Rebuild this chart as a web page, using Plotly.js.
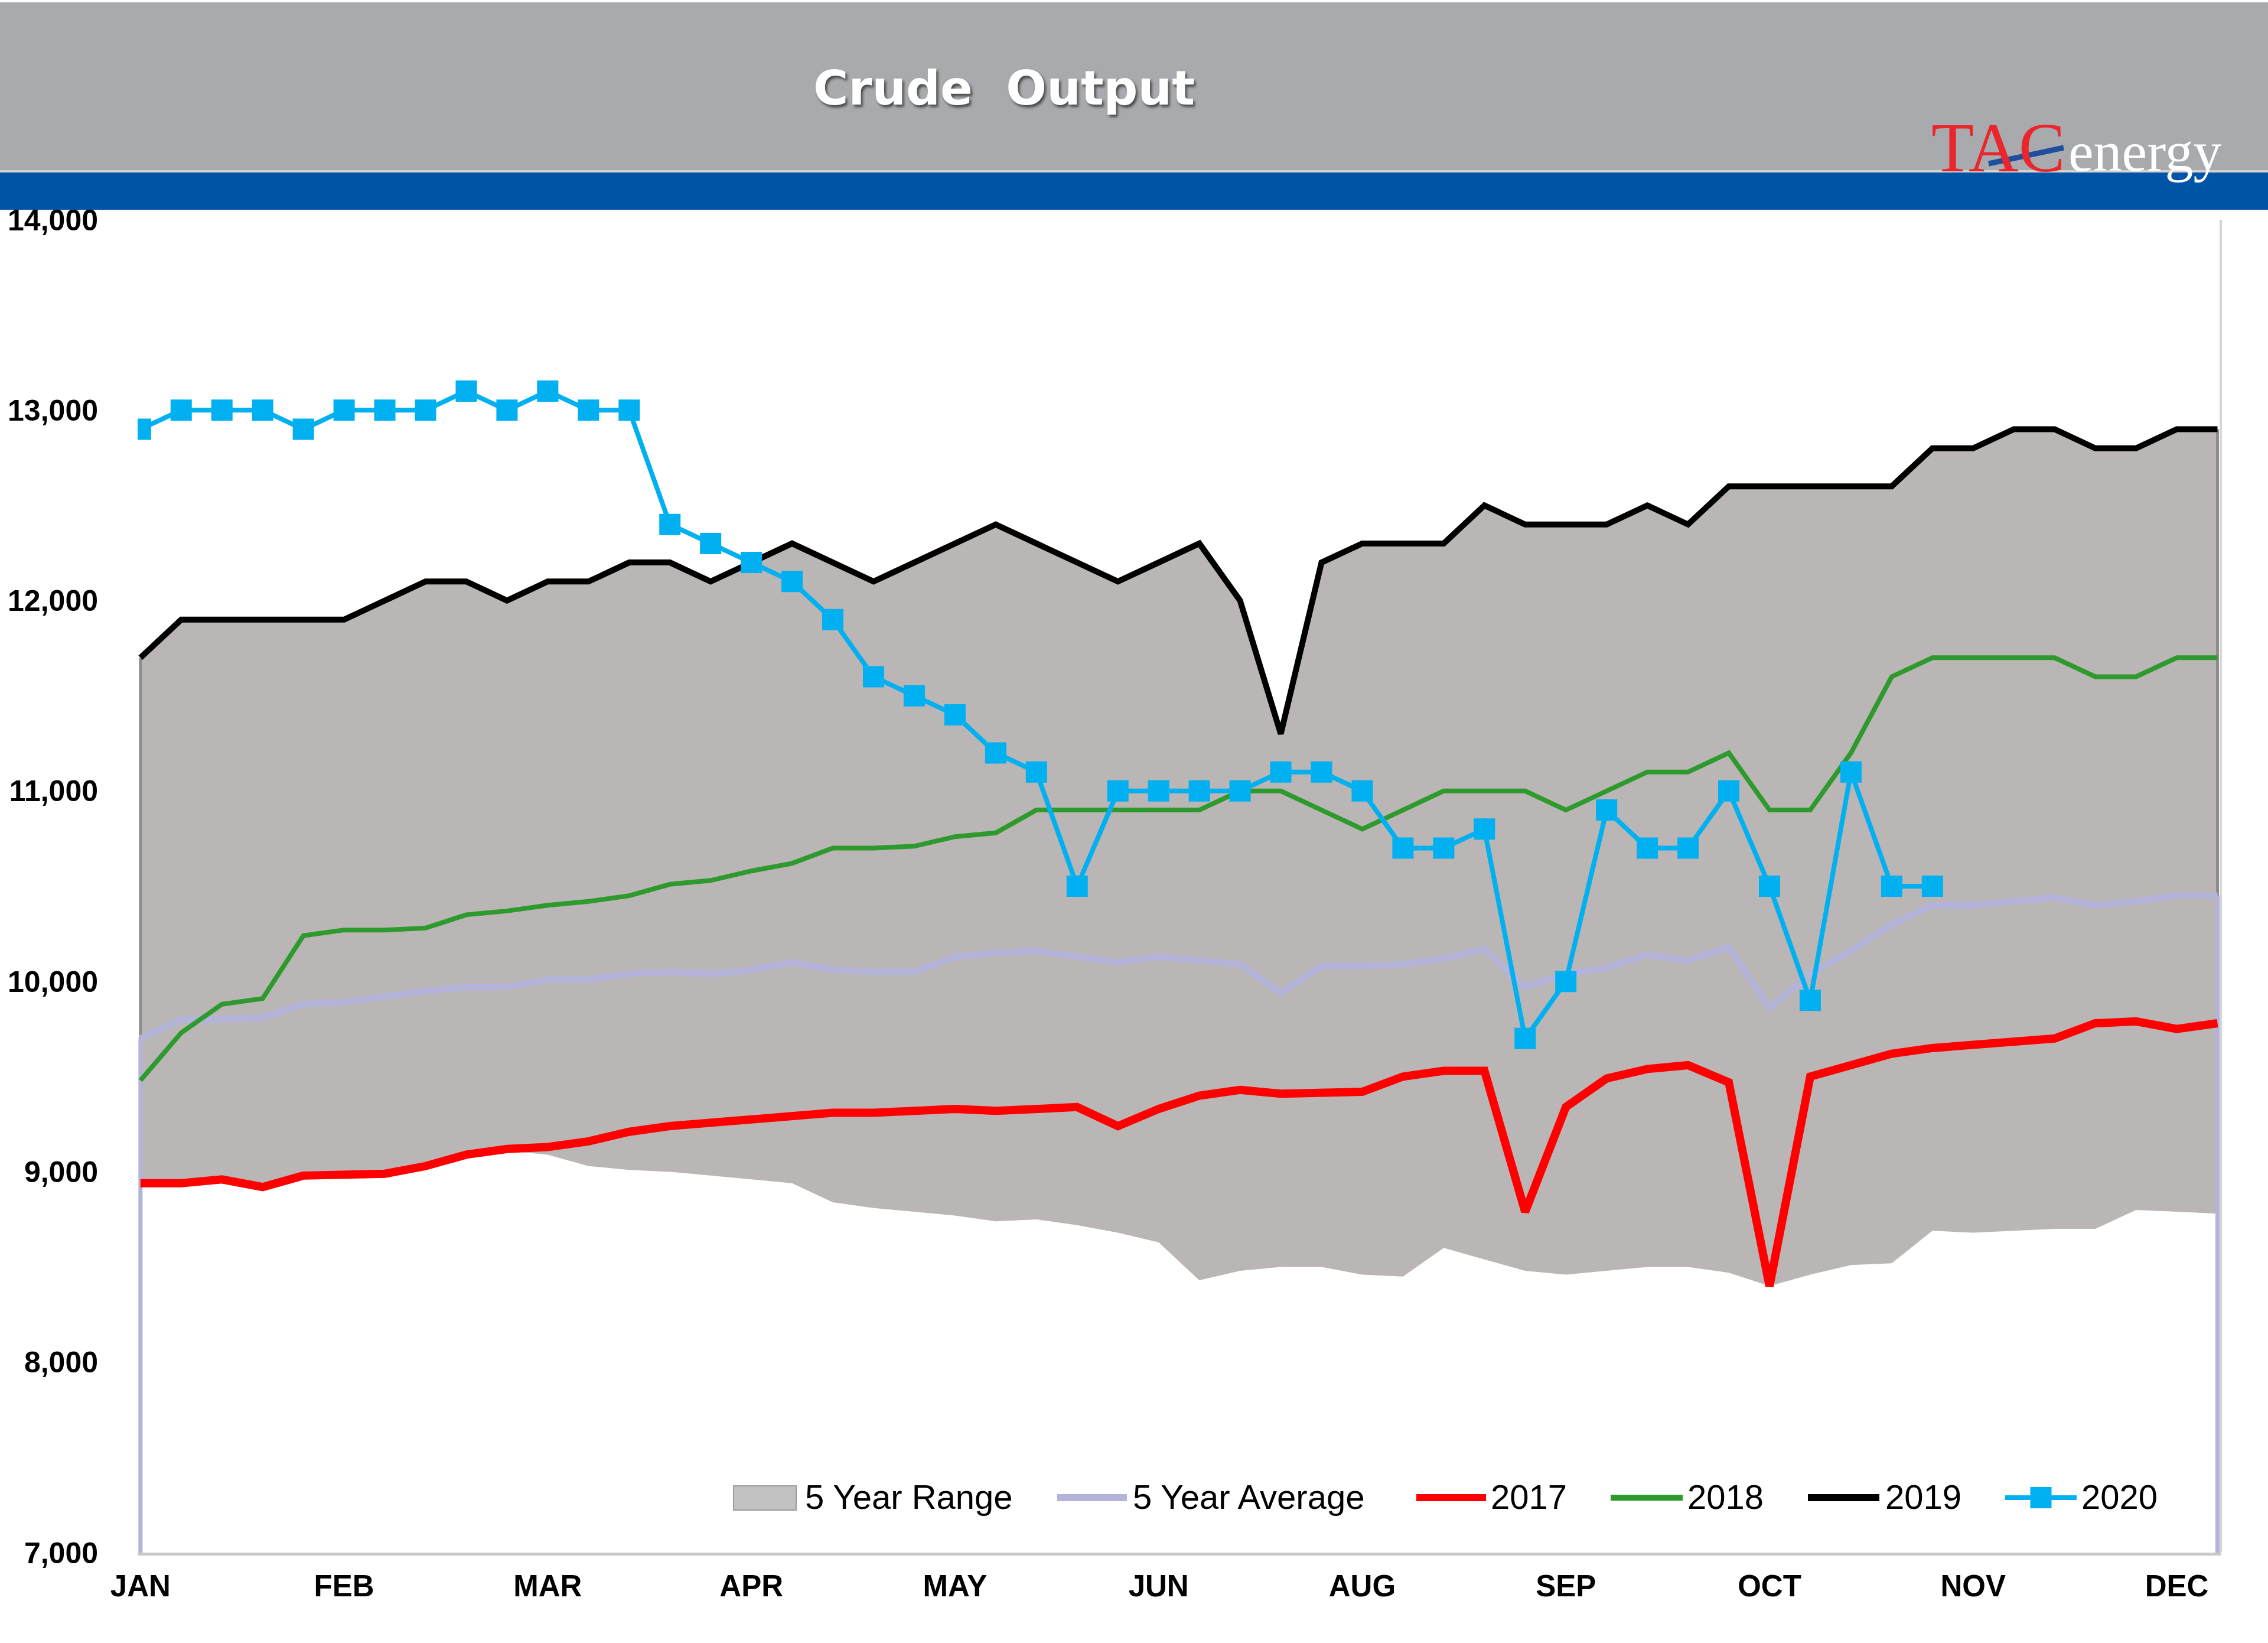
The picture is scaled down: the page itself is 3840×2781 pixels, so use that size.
<!DOCTYPE html>
<html><head><meta charset="utf-8">
<script src="https://cdn.plot.ly/plotly-3.0.1.min.js"></script>
<style>html,body{margin:0;padding:0;background:#fff}#chart{width:3840px;height:2781px}</style>
</head><body><div id="chart"></div>
<script>
// ---------- DATA ----------
const weeks = [1,2,3,4,5,6,7,8,9,10,11,12,13,14,15,16,17,18,19,20,21,22,23,24,25,26,
               27,28,29,30,31,32,33,34,35,36,37,38,39,40,41,42,43,44,45,46,47,48,49,50,51,52];
const monthLabels = ['JAN','FEB','MAR','APR','MAY','JUN','AUG','SEP','OCT','NOV','DEC'];
const monthTickWeeks = [1,6,11,16,21,26,31,36,41,46,51];
const yTicks = [7000,8000,9000,10000,11000,12000,13000,14000];
const seriesNames = ['5 Year Range','5 Year Average','2017','2018','2019','2020'];

const rangeLow = [8930,8930,8950,8910,8970,8970,8980,9020,9080,9110,
                  9090,9030,9010,9000,8980,8960,8940,8840,8810,8790,
                  8770,8740,8750,8720,8680,8630,8430,8480,8500,8500,
                  8460,8450,8600,8540,8480,8460,8480,8500,8500,8470,
                  8400,8460,8510,8520,8690,8680,8690,8700,8700,8800,
                  8790,8780];
const rangeHigh = [11700,11900,11900,11900,11900,11900,12000,12100,12100,12000,
                   12100,12100,12200,12200,12100,12200,12300,12200,12100,12200,
                   12300,12400,12300,12200,12100,12200,12300,12000,11300,12200,
                   12300,12300,12300,12500,12400,12400,12400,12500,12400,12600,
                   12600,12600,12600,12600,12800,12800,12900,12900,12800,12800,
                   12900,12900];
const avg5 = [9700,9800,9800,9810,9880,9890,9920,9950,9970,9970,
              10010,10010,10040,10050,10040,10060,10100,10060,10050,10050,
              10130,10150,10160,10130,10100,10130,10110,10090,9940,10080,
              10080,10090,10120,10170,9970,10040,10070,10140,10110,10180,
              9860,10040,10160,10300,10400,10400,10420,10440,10400,10420,
              10450,10450];
const y2017 = [8940,8940,8960,8920,8980,8980,8990,9030,9090,9120,
               9130,9160,9210,9240,9260,9280,9300,9310,9310,9320,
               9330,9320,9330,9340,9240,9330,9400,9430,9410,9420,
               9420,9500,9530,9530,8790,9340,9490,9540,9560,9470,
               8400,9500,9560,9620,9650,9670,9680,9700,9780,9790,
               9750,9780];
const y2018 = [9480,9730,9880,9910,10240,10270,10270,10280,10350,10370,
               10400,10420,10450,10510,10530,10580,10620,10700,10700,10710,
               10760,10780,10900,10900,10900,10900,10900,11000,11000,10900,
               10800,10900,11000,11000,11000,10900,11000,11100,11100,11200,
               10900,10900,11200,11600,11700,11700,11700,11700,11600,11600,
               11700,11700];
const y2019 = [11700,11900,11900,11900,11900,11900,12000,12100,12100,12000,
               12100,12100,12200,12200,12100,12200,12300,12200,12100,12200,
               12300,12400,12300,12200,12100,12200,12300,12000,11300,12200,
               12300,12300,12300,12500,12400,12400,12400,12500,12400,12600,
               12600,12600,12600,12600,12800,12800,12900,12900,12800,12800,
               12900,12900];
const y2020 = [12900,13000,13000,13000,12900,13000,13000,13000,13100,13000,
               13100,13000,13000,12400,12300,12200,12100,11900,11600,11500,
               11400,11200,11100,10500,11000,11000,11000,11000,11100,11100,
               11000,10700,10700,10800,9700,10000,10900,10700,10700,11000,
               10500,9900,11100,10500,10500];

// ---------- STYLE ----------
const C = {
  range:'#BAB6B5', rangeEdge:'#8E8B8B', avg:'#B4B4DA', r2017:'#FF0000',
  g2018:'#2E9A2E', b2019:'#000000', c2020:'#00B0F0',
  header:'#A8AAAD', band:'#0054A5'
};
const SANS = 'Liberation Sans, Arial, sans-serif';
const W0 = 3840, H0 = 2781;
const L = 233, R = 3760, T = 372, B = 2628;
const px2x = p => (p - L) / (R - L);
const px2y = p => (B - p) / (B - T);
const yMin = yTicks[0], yMax = yTicks[yTicks.length-1];
const last = weeks.length - 1;

const traces = [
  {x: weeks, y: rangeLow, mode:'lines', line:{width:0, color:C.range}, hoverinfo:'skip'},
  {x: weeks, y: rangeHigh, mode:'lines', fill:'tonexty', fillcolor:C.range,
   line:{width:0, color:C.range}, name:seriesNames[0]},
  // edges of the range area
  {x:[weeks[0],weeks[0]], y:[rangeLow[0],rangeHigh[0]], mode:'lines', line:{color:C.rangeEdge,width:5}},
  {x:[weeks[last],weeks[last]], y:[rangeLow[last],rangeHigh[last]], mode:'lines', line:{color:C.rangeEdge,width:5}},
  // edges of the average area
  {x:[weeks[0],weeks[0]], y:[yMin,avg5[0]], mode:'lines', line:{color:C.avg,width:7}},
  {x:[weeks[last],weeks[last]], y:[yMin,avg5[last]], mode:'lines', line:{color:C.avg,width:7}},
  {x: weeks, y: avg5, mode:'lines', line:{color:C.avg, width:11}, name:seriesNames[1]},
  {x: weeks, y: y2017, mode:'lines', line:{color:C.r2017, width:14}, name:seriesNames[2]},
  {x: weeks, y: y2018, mode:'lines', line:{color:C.g2018, width:8}, name:seriesNames[3]},
  {x: weeks, y: y2019, mode:'lines', line:{color:C.b2019, width:10}, name:seriesNames[4]},
  {x: weeks.slice(0, y2020.length), y: y2020, mode:'lines+markers',
   line:{color:C.c2020, width:8}, marker:{symbol:'square', size:36, color:C.c2020}, name:seriesNames[5]}
];

const shapes = [
  {type:'rect', xref:'paper', yref:'paper', x0:px2x(0), x1:px2x(W0), y0:px2y(288), y1:px2y(4),
   fillcolor:C.header, line:{width:0}},
  {type:'rect', xref:'paper', yref:'paper', x0:px2x(0), x1:px2x(W0), y0:px2y(292), y1:px2y(288),
   fillcolor:'#D8D0D0', line:{width:0}},
  {type:'rect', xref:'paper', yref:'paper', x0:px2x(0), x1:px2x(W0), y0:px2y(355), y1:px2y(292),
   fillcolor:C.band, line:{width:0}},
  // right plot border
  {type:'line', xref:'paper', yref:'paper', x0:1, x1:1, y0:0, y1:1, line:{color:'#D6D6D6', width:4}},
  // logo swoosh
  {type:'line', xref:'paper', yref:'paper', x0:px2x(3367), y0:px2y(277), x1:px2x(3494), y1:px2y(250),
   line:{color:'#1D4F9C', width:9}}
];

// custom legend (pixel layout)
const legendPos = [
  {sw:[1242,1348], tx:1361},
  {sw:[1790,1908], tx:1916},
  {sw:[2398,2516], tx:2522},
  {sw:[2727,2849], tx:2855},
  {sw:[3061,3182], tx:3190},
  {sw:[3395,3516], tx:3522}
];
const legY = 2535;
const legStyle = [
  null,
  {c:C.avg, w:12}, {c:C.r2017, w:12}, {c:C.g2018, w:10}, {c:C.b2019, w:12}, {c:C.c2020, w:8}
];
shapes.push({type:'rect', xref:'paper', yref:'paper',
  x0:px2x(legendPos[0].sw[0]), x1:px2x(legendPos[0].sw[1]), y0:px2y(legY+21), y1:px2y(legY-20),
  fillcolor:'#C2C2C2', line:{color:'#9C9C9C', width:2}});
for (let i = 1; i < legendPos.length; i++) {
  shapes.push({type:'line', xref:'paper', yref:'paper',
    x0:px2x(legendPos[i].sw[0]), x1:px2x(legendPos[i].sw[1]), y0:px2y(legY), y1:px2y(legY),
    line:{color:legStyle[i].c, width:legStyle[i].w}});
}
const mk = (legendPos[5].sw[0] + legendPos[5].sw[1]) / 2;
shapes.push({type:'rect', xref:'paper', yref:'paper', x0:px2x(mk-18), x1:px2x(mk+18),
  y0:px2y(legY+18), y1:px2y(legY-18), fillcolor:C.c2020, line:{width:0}});

const annotations = [
  {xref:'paper', yref:'paper', x:px2x(1700), y:px2y(149), xanchor:'center', yanchor:'middle',
   text:'Crude\u00A0 Output', showarrow:false,
   font:{family:'DejaVu Sans, Verdana, sans-serif', size:81, color:'#FFFFFF', weight:700,
         shadow:'3px 4px 4px rgba(40,40,40,0.75)'}},
  {xref:'paper', yref:'paper', x:px2x(3268), y:px2y(318), xanchor:'left', yanchor:'bottom',
   text:'TAC', showarrow:false,
   font:{family:'Liberation Serif, Times New Roman, serif', size:118, color:'#E8262C'}},
  {xref:'paper', yref:'paper', x:px2x(3500), y:px2y(312), xanchor:'left', yanchor:'bottom',
   text:'energy', showarrow:false,
   font:{family:'Liberation Serif, Times New Roman, serif', size:96, color:'#FFFFFF'}}
];
for (let i = 0; i < legendPos.length; i++) {
  annotations.push({xref:'paper', yref:'paper', x:px2x(legendPos[i].tx), y:px2y(legY-2),
    xanchor:'left', yanchor:'middle', text:seriesNames[i], showarrow:false,
    font:{family:SANS, size:58, color:'#000'}});
}

const layout = {
  width:W0, height:H0,
  margin:{l:L, r:W0-R, t:T, b:H0-B, pad:0},
  paper_bgcolor:'#FFFFFF', plot_bgcolor:'#FFFFFF',
  showlegend:false,
  xaxis:{range:[weeks[0]-0.07, weeks[last]+0.08], tickmode:'array', tickvals:monthTickWeeks,
         ticktext:monthLabels, showgrid:false, zeroline:false, showline:true,
         linecolor:'#C8C8C8', linewidth:5, ticks:'', ticklabelstandoff:8,
         tickfont:{family:SANS, size:51, color:'#000', weight:700}},
  yaxis:{range:[yMin, yMax], tickmode:'array', tickvals:yTicks, tickformat:',d',
         showgrid:false, zeroline:false, showline:false, ticks:'', ticklabelstandoff:66,
         tickfont:{family:SANS, size:50, color:'#000', weight:700}},
  shapes:shapes, annotations:annotations
};

Plotly.newPlot('chart', traces, layout, {staticPlot:true, displayModeBar:false});
</script></body></html>
